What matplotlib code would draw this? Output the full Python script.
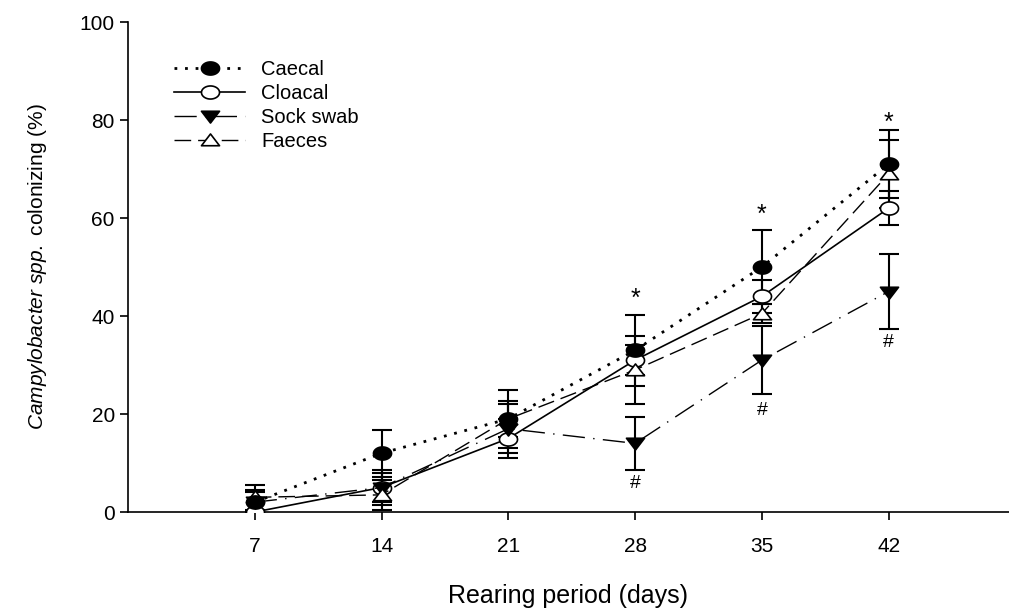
import numpy as np
import matplotlib
matplotlib.use("Agg")
import matplotlib.pyplot as plt
from matplotlib.path import Path

plt.rcParams['font.family'] = ['Liberation Sans', 'DejaVu Sans']
plt.rcParams['mathtext.fontset'] = 'custom'
plt.rcParams['mathtext.rm'] = 'Liberation Sans'
plt.rcParams['mathtext.it'] = 'Liberation Sans:italic'

# data
days = [7, 14, 21, 28, 35, 42]

caecal = [2, 12, 19, 33, 50, 71]
caecal_err = [2.5, 4.8, 3.7, 7.2, 7.6, 7]

cloacal = [0, 5, 15, 31, 44, 62]
cloacal_err = [0, 3, 3.9, 3, 3.4, 3.5]

sock = [2, 5, 17, 14, 31, 45]
sock_err = [2, 3.5, 5, 5.4, 7, 7.7]

faeces = [3, 3.5, 19, 29, 40.5, 69]
faeces_err = [2.5, 3, 6, 7, 2, 7]

star_days = [28, 35, 42]
star_y = [43.4, 60.7, 79.5]
hash_days = [28, 35, 42]
hash_y = [5.8, 20.8, 34.5]

# the source image is stretched sideways, so the markers are too
SX = 1.38
t = np.linspace(0, 2 * np.pi, 60)
ellipse = Path(np.column_stack([SX * np.cos(t), np.sin(t)]), closed=True)
tri_up = Path([(-SX, -0.8), (SX, -0.8), (0, 1), (-SX, -0.8)], closed=True)
tri_down = Path([(-SX, 0.8), (SX, 0.8), (0, -1), (-SX, 0.8)], closed=True)

fig = plt.figure(figsize=(10.09, 6.10), dpi=100)
ax = fig.add_axes([128 / 1009, (610 - 512) / 610, (1009 - 128) / 1009, 490 / 610])

err_kw = dict(fmt='none', ecolor='black', elinewidth=1.5, capsize=7, capthick=1.5)

series = [
    ('Caecal', caecal, caecal_err, dict(lw=2, linestyle=(0, (1, 2.8)), marker=ellipse, mfc='black'), 4),
    ('Cloacal', cloacal, cloacal_err, dict(lw=1.2, linestyle='-', marker=ellipse, mfc='white'), 3),
    ('Sock swab', sock, sock_err, dict(lw=1, linestyle=(0, (16, 6, 1, 6)), marker=tri_down, mfc='black'), 3),
    ('Faeces', faeces, faeces_err, dict(lw=1, linestyle=(0, (12, 5)), marker=tri_up, mfc='white'), 3),
]

handles = []
for name, vals, errs, style, z in series:
    ax.errorbar(days, vals, yerr=errs, zorder=2, **err_kw)
    ln, = ax.plot(days, vals, color='black', ms=13, mec='black', mew=1.2,
                  label=name, zorder=z, **style)
    handles.append(ln)

for d, y in zip(star_days, star_y):
    ax.text(d, y, '*', ha='center', va='center', fontsize=18)
for d, y in zip(hash_days, hash_y):
    ax.text(d, y, '#', ha='center', va='center', fontsize=14)

ax.set_xlim(0, 881 / 18.11)
ax.set_ylim(0, 100)
ax.set_xticks(days)
ax.set_yticks([0, 20, 40, 60, 80, 100])
ax.tick_params(axis='both', labelsize=15, length=6, width=1.2, direction='out')
ax.spines['top'].set_visible(False)
ax.spines['right'].set_visible(False)
ax.spines['left'].set_linewidth(1.2)
ax.spines['bottom'].set_linewidth(1.2)
ax.tick_params(axis='x', pad=12)

ax.set_xlabel('Rearing period (days)', fontsize=18, labelpad=20)
ax.set_ylabel(r'$\mathit{Campylobacter\ spp.}$ colonizing (%)', fontsize=15, labelpad=22)

ax.legend(handles=handles, loc='upper left', bbox_to_anchor=(0.032, 0.96), frameon=False,
          fontsize=14.5, handlelength=3.5, handletextpad=0.8, labelspacing=0.25)

fig.savefig('out.png', dpi=100)
